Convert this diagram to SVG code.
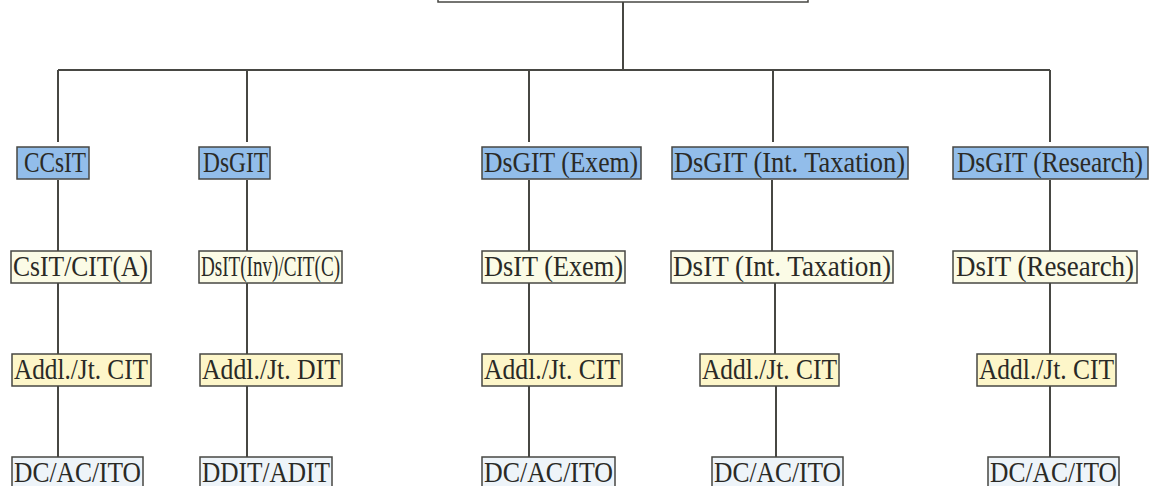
<svg xmlns="http://www.w3.org/2000/svg" width="1154" height="486" viewBox="0 0 1154 486">
<style>
.box{stroke:#474743;stroke-width:1.5}
.b{fill:#92bdea}
.y2{fill:#fbfbe6}
.y3{fill:#fdf6c9}
.w4{fill:#eef4f9}
.t{font-family:"Liberation Serif","DejaVu Serif",serif;font-size:29px;fill:#2a2a26}
.ln{stroke:#474743;stroke-width:2;fill:none}
</style>
<rect width="1154" height="486" fill="#ffffff"/>
<g id="root"><rect class="box" x="438" y="-30" width="370" height="32" fill="#ffffff"/></g>
<g id="connectors">
<path class="ln" d="M623 2V70M58 70H1050M58 70V142M247 70V142M529 70V142M773 70V142M1050 70V142"/>
<path class="ln" d="M58 180V251M247 180V251M529 180V251M772 180V251M1050 180V251"/>
<path class="ln" d="M58 283V354M247 283V354M529 283V354M775 283V354M1050 283V354"/>
<path class="ln" d="M58 386V457M247 386V457M529 386V457M776 386V457M1050 386V457"/>
</g>
<g id="n1a"><rect class="box b" x="17" y="147" width="72" height="32"/><text class="t" x="24" y="172" textLength="62" lengthAdjust="spacingAndGlyphs">CCsIT</text></g>
<g id="n1b"><rect class="box b" x="199" y="147" width="71" height="32"/><text class="t" x="203" y="172" textLength="65" lengthAdjust="spacingAndGlyphs">DsGIT</text></g>
<g id="n1c"><rect class="box b" x="482" y="147" width="159" height="32"/><text class="t" x="484" y="172" textLength="154" lengthAdjust="spacingAndGlyphs">DsGIT (Exem)</text></g>
<g id="n1d"><rect class="box b" x="672" y="147" width="236" height="32"/><text class="t" x="674" y="172" textLength="231" lengthAdjust="spacingAndGlyphs">DsGIT (Int. Taxation)</text></g>
<g id="n1e"><rect class="box b" x="953" y="147" width="195" height="32"/><text class="t" x="957" y="172" textLength="186" lengthAdjust="spacingAndGlyphs">DsGIT (Research)</text></g>

<g id="n2a"><rect class="box y2" x="11" y="251" width="140" height="32"/><text class="t" x="13" y="276" textLength="135" lengthAdjust="spacingAndGlyphs">CsIT/CIT(A)</text></g>
<g id="n2b"><rect class="box y2" x="199" y="251" width="143" height="32"/><text class="t" x="201" y="276" textLength="139" lengthAdjust="spacingAndGlyphs">DsIT(Inv)/CIT(C)</text></g>
<g id="n2c"><rect class="box y2" x="482" y="251" width="143" height="32"/><text class="t" x="484" y="276" textLength="139" lengthAdjust="spacingAndGlyphs">DsIT (Exem)</text></g>
<g id="n2d"><rect class="box y2" x="671" y="251" width="222" height="32"/><text class="t" x="673" y="276" textLength="218" lengthAdjust="spacingAndGlyphs">DsIT (Int. Taxation)</text></g>
<g id="n2e"><rect class="box y2" x="953" y="251" width="184" height="32"/><text class="t" x="956" y="276" textLength="178" lengthAdjust="spacingAndGlyphs">DsIT (Research)</text></g>

<g id="n3a"><rect class="box y3" x="12" y="354" width="139" height="32"/><text class="t" x="14" y="379" textLength="134" lengthAdjust="spacingAndGlyphs">Addl./Jt. CIT</text></g>
<g id="n3b"><rect class="box y3" x="200" y="354" width="142" height="32"/><text class="t" x="202" y="379" textLength="138" lengthAdjust="spacingAndGlyphs">Addl./Jt. DIT</text></g>
<g id="n3c"><rect class="box y3" x="482" y="354" width="140" height="32"/><text class="t" x="484" y="379" textLength="136" lengthAdjust="spacingAndGlyphs">Addl./Jt. CIT</text></g>
<g id="n3d"><rect class="box y3" x="700" y="354" width="139" height="32"/><text class="t" x="702" y="379" textLength="135" lengthAdjust="spacingAndGlyphs">Addl./Jt. CIT</text></g>
<g id="n3e"><rect class="box y3" x="977" y="354" width="139" height="32"/><text class="t" x="979" y="379" textLength="135" lengthAdjust="spacingAndGlyphs">Addl./Jt. CIT</text></g>

<g id="n4a"><rect class="box w4" x="12" y="457" width="131" height="40"/><text class="t" x="14" y="482" textLength="127" lengthAdjust="spacingAndGlyphs">DC/AC/ITO</text></g>
<g id="n4b"><rect class="box w4" x="200" y="457" width="132" height="40"/><text class="t" x="202" y="482" textLength="128" lengthAdjust="spacingAndGlyphs">DDIT/ADIT</text></g>
<g id="n4c"><rect class="box w4" x="482" y="457" width="133" height="40"/><text class="t" x="484" y="482" textLength="129" lengthAdjust="spacingAndGlyphs">DC/AC/ITO</text></g>
<g id="n4d"><rect class="box w4" x="712" y="457" width="131" height="40"/><text class="t" x="714" y="482" textLength="127" lengthAdjust="spacingAndGlyphs">DC/AC/ITO</text></g>
<g id="n4e"><rect class="box w4" x="988" y="457" width="131" height="40"/><text class="t" x="990" y="482" textLength="127" lengthAdjust="spacingAndGlyphs">DC/AC/ITO</text></g>
</svg>
